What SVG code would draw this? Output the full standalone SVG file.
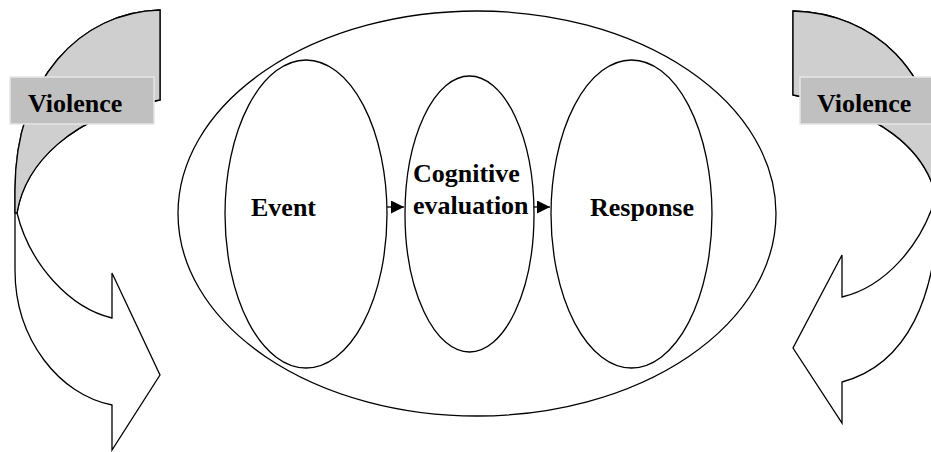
<svg xmlns="http://www.w3.org/2000/svg" width="931" height="452" viewBox="0 0 931 452">
<style>
.ln{fill:none;stroke:#000;stroke-width:1.3}
.wh{fill:#fff;stroke:#000;stroke-width:1.3;stroke-linejoin:miter}
.gr{fill:#cfcfcf;stroke:#000;stroke-width:1.3}
.lbl{fill:#c0c0c0;stroke:#e6e6e6;stroke-width:1.5}
.t{font-family:"Liberation Serif","Times New Roman",serif;font-weight:bold;font-size:26px;fill:#000}
</style>
<defs>
<marker id="ah" viewBox="0 0 10 10" refX="10" refY="5" markerWidth="14" markerHeight="13" markerUnits="userSpaceOnUse" orient="auto">
<path d="M0,0 L10,5 L0,10 Z" fill="#000"/>
</marker>
</defs>
<rect width="931" height="452" fill="#fff"/>

<g id="outer">
<ellipse class="ln" cx="477" cy="213.5" rx="299" ry="202.5"/>
</g>
<g id="event">
<ellipse class="ln" cx="306" cy="214" rx="81" ry="154"/>
<text class="t" x="251" y="216">Event</text>
</g>
<g id="cognitive">
<ellipse class="ln" cx="469.5" cy="214" rx="64.5" ry="138"/>
<text class="t" x="413" y="182">Cognitive</text>
<text class="t" x="413" y="214">evaluation</text>
</g>
<g id="response">
<ellipse class="ln" cx="631.5" cy="214" rx="80.5" ry="154"/>
<text class="t" x="590" y="216">Response</text>
</g>

<g id="connectors">
<line class="ln" x1="387" y1="207" x2="404" y2="207" marker-end="url(#ah)"/>
<line class="ln" x1="534" y1="207" x2="550" y2="207" marker-end="url(#ah)"/>
</g>

<g id="left-arrow">
<path class="wh" d="M160,10 C80,12 15,80 15,190 L15,270 C15,340 60,395 112,405 L112,450 L160,375 L112,273 L112,318 C70,308 30,265 17,213 C25,165 70,115 160,100 Z"/>
<path class="gr" d="M160,10 C80,12 15,80 15,190 L15,213 L17,213 C25,165 70,115 160,100 Z"/>
<rect class="lbl" x="10" y="77" width="144" height="47"/>
<text class="t" x="28" y="112">Violence</text>
</g>

<g id="right-arrow">
<path class="wh" d="M793,11 C873,13 938,70 938,170 L938,190 C940,300 905,365 842,382 L842,423 L793,348 L842,255 L842,297 C885,287 922,245 936,196 C925,150 880,110 793,95 Z"/>
<path class="gr" d="M793,11 C873,13 938,70 938,170 L938,196 L936,196 C925,150 880,110 793,95 Z"/>
<rect class="lbl" x="800" y="77" width="140" height="47"/>
<text class="t" x="817" y="112">Violence</text>
</g>
</svg>
